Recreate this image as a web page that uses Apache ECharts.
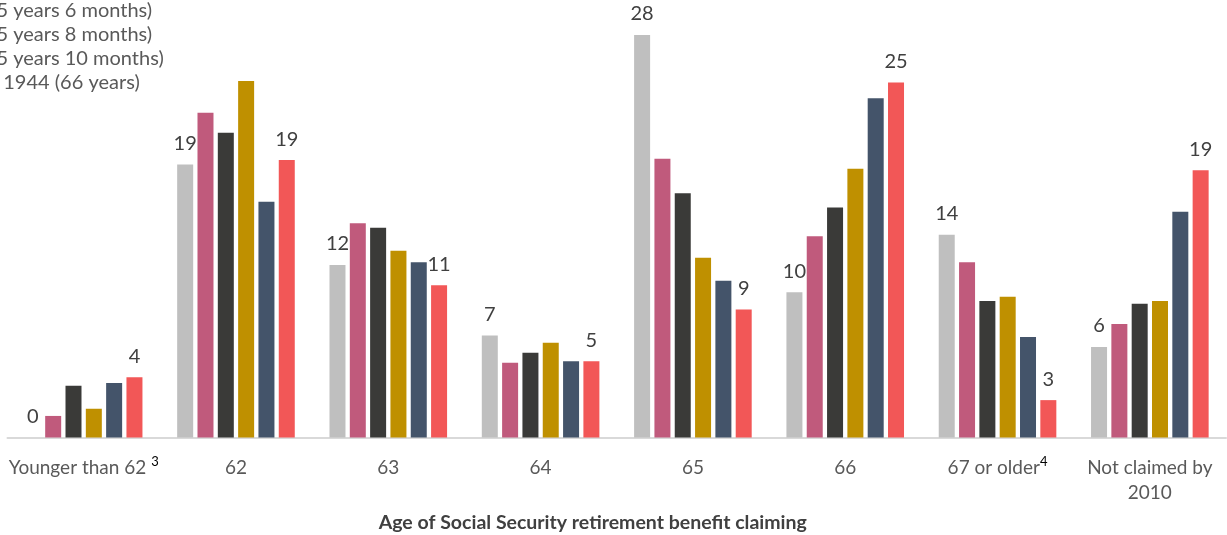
<!DOCTYPE html>
<html>
<head>
<meta charset="utf-8">
<script src="https://cdn.jsdelivr.net/npm/echarts@6/dist/echarts.min.js"></script>
<style>
html,body{margin:0;padding:0;background:#fff;}
#chart{width:1227px;height:535px;}
</style>
</head>
<body>
<div id="chart"></div>
<script>
const categories = ['Younger than 62', '62', '63', '64', '65', '66', '67 or older', 'Not claimed by\n2010'];
const footnotes = ['3', '', '', '', '', '', '4', ''];
const seriesNames = [
  '1938 (65 years 2 months)',
  '1939 (65 years 4 months)',
  '1940 (65 years 6 months)',
  '1941 (65 years 8 months)',
  '1942 (65 years 10 months)',
  '1943 or 1944 (66 years)'
];
const cohort1 = [0, 19.0, 12.0, 7.1, 28.0, 10.1, 14.1, 6.3];
const cohort2 = [1.5, 22.6, 14.9, 5.2, 19.4, 14.0, 12.2, 7.9];
const cohort3 = [3.6, 21.2, 14.6, 5.9, 17.0, 16.0, 9.5, 9.3];
const cohort4 = [2.0, 24.8, 13.0, 6.6, 12.5, 18.7, 9.8, 9.5];
const cohort5 = [3.8, 16.4, 12.2, 5.3, 10.9, 23.6, 7.0, 15.7];
const cohort6 = [4.2, 19.3, 10.6, 5.3, 8.9, 24.7, 2.6, 18.6];
const seriesValues = [cohort1, cohort2, cohort3, cohort4, cohort5, cohort6];
const colors = ['#BFBFBF', '#C05A7C', '#3A3A38', '#BF9000', '#44546A', '#F25757'];
const labeled = [true, false, false, false, false, true];
const FONT = 'Lato, "Open Sans", sans-serif';

const chart = echarts.init(document.getElementById('chart'), null, {renderer: 'canvas'});
const series = seriesValues.map((vals, i) => ({
  name: seriesNames[i],
  type: 'bar',
  data: vals,
  barWidth: 16,
  barGap: '27%',
  itemStyle: {color: colors[i]},
  label: {
    show: labeled[i],
    position: 'top',
    distance: 11,
    fontFamily: FONT,
    fontSize: 20,
    color: '#404040',
    formatter: p => String(Math.round(p.value))
  }
}));

chart.setOption({
  animation: false,
  color: colors,
  grid: {left: 7.5, right: 1, top: 6.25, bottom: 97.5, containLabel: false, outerBoundsMode: 'none'},
  legend: {
    orient: 'vertical',
    left: -102,
    top: -49,
    padding: 0,
    itemGap: 0,
    itemWidth: 25,
    itemHeight: 14,
    icon: 'rect',
    selectedMode: false,
    textStyle: {fontFamily: FONT, fontSize: 20, color: '#595959', lineHeight: 24},
    data: seriesNames
  },
  xAxis: {
    type: 'category',
    data: categories,
    axisTick: {show: false},
    axisLine: {lineStyle: {color: '#D9D9D9', width: 2}},
    axisLabel: {
      interval: 0,
      margin: 18,
      fontFamily: FONT,
      fontSize: 19,
      color: '#595959',
      lineHeight: 25,
      formatter: (v, idx) => {
        const lines = v.split('\n').map(s => '{t|' + s + '}');
        if (footnotes[idx]) {
          const sep = idx === 0 ? ' ' : '';
          lines[0] += sep + '{sup|' + footnotes[idx] + '}';
        }
        return lines.join('\n');
      },
      rich: {
        t: {fontFamily: FONT, fontSize: 19, color: '#595959', lineHeight: 25},
        sup: {fontFamily: FONT, fontSize: 13, color: '#000000', lineHeight: 25, verticalAlign: 'top'}
      }
    },
    name: 'Age of Social Security retirement benefit claiming',
    nameLocation: 'middle',
    nameGap: 75,
    nameTextStyle: {fontFamily: FONT, fontSize: 19.5, fontWeight: 'bold', color: '#404040', padding: [0, 48, 0, 0]}
  },
  yAxis: {
    type: 'value',
    min: 0,
    max: 30,
    show: false,
    splitLine: {show: false}
  },
  series: series
});
</script>
</body>
</html>
